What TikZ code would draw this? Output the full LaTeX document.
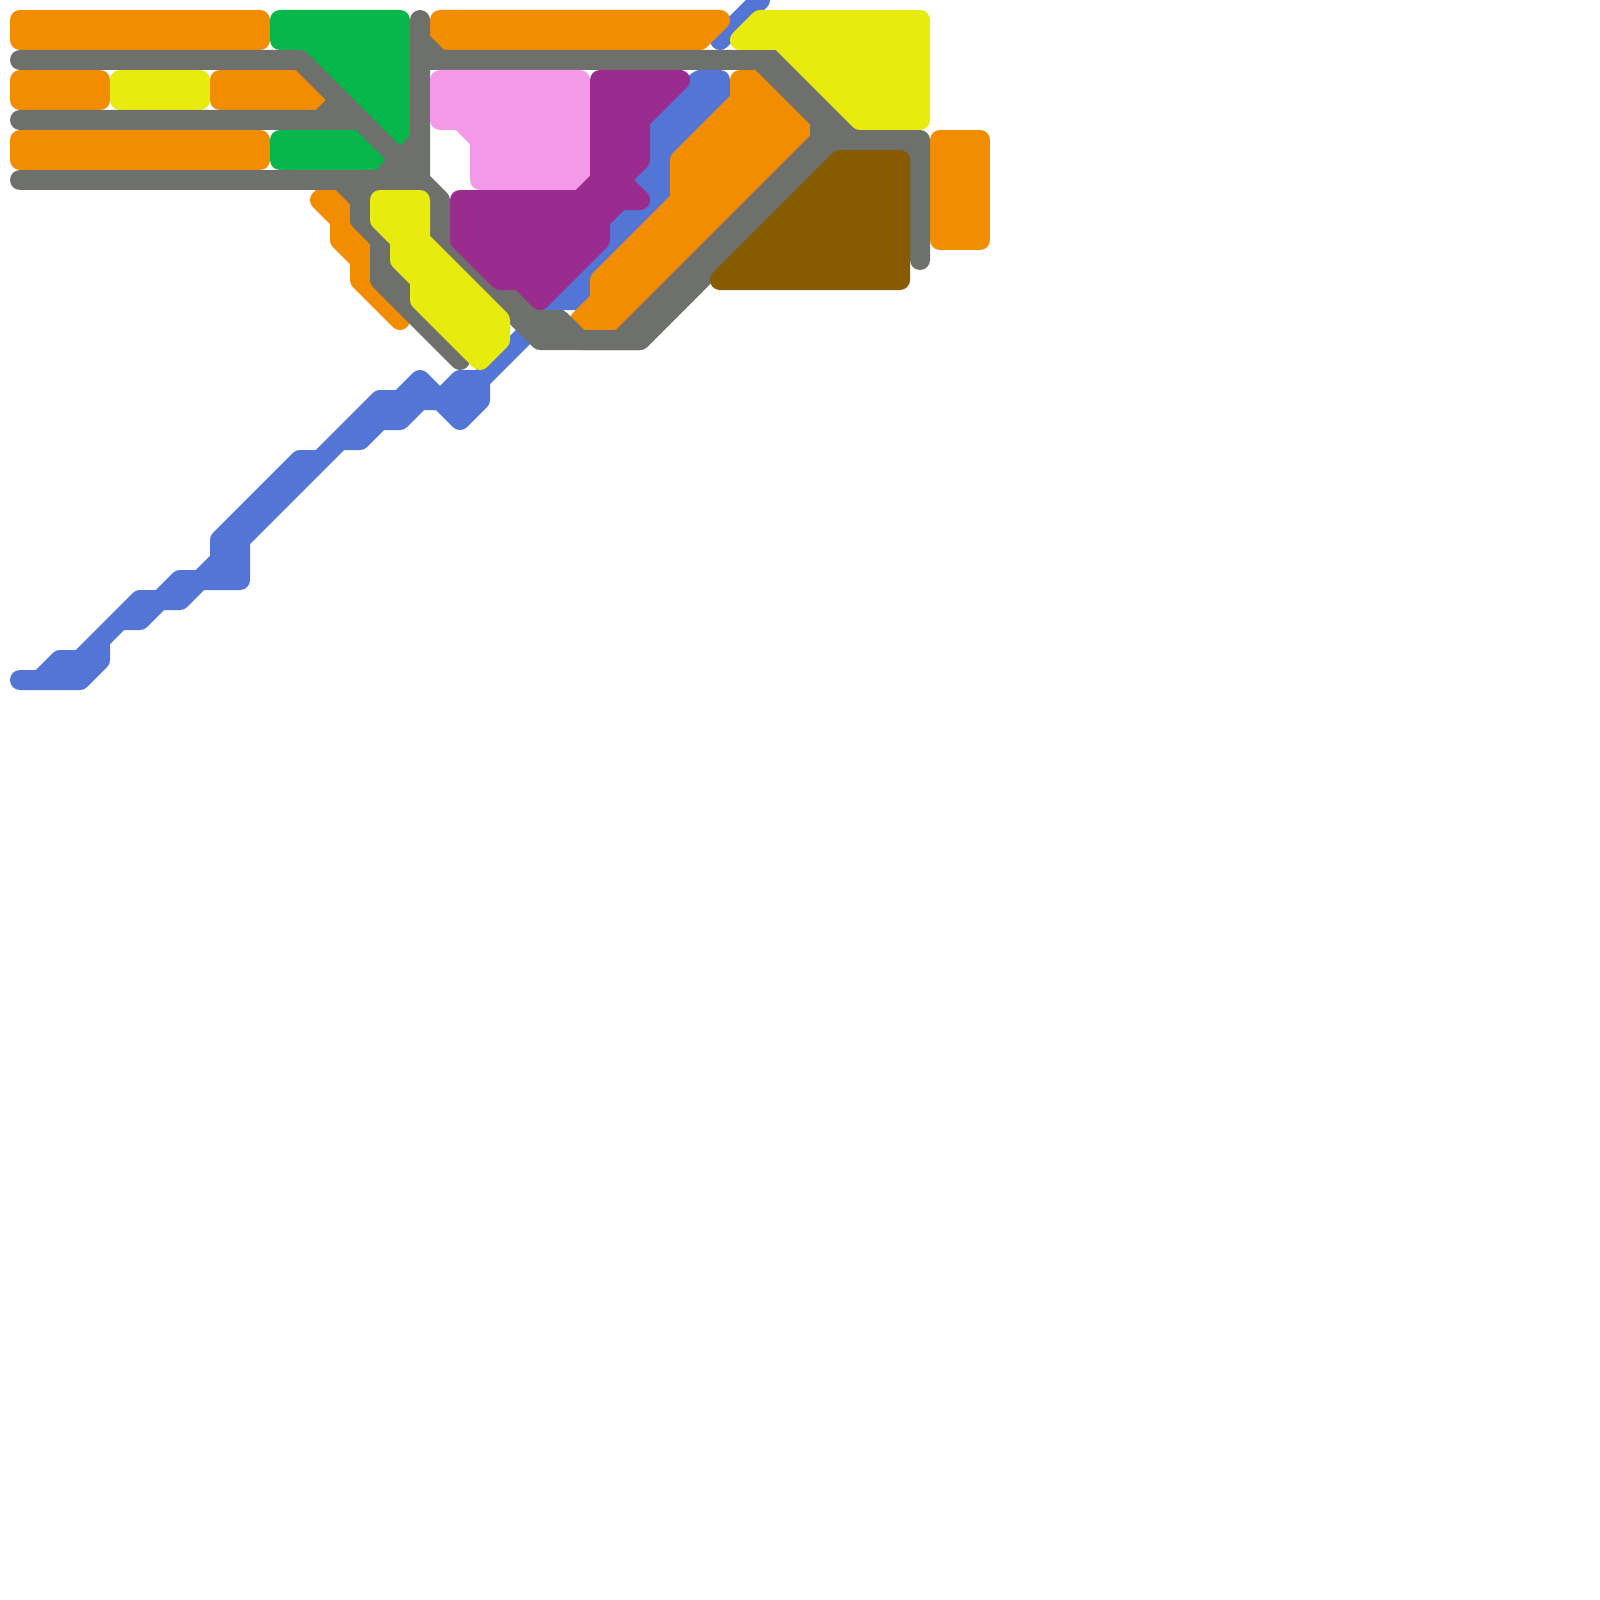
\documentclass[tikz,border=0pt]{standalone}
\definecolor{cOrange}{HTML}{F38D00}
\definecolor{cGreen}{HTML}{08B74B}
\definecolor{cGray}{HTML}{6E706C}
\definecolor{cYellow}{HTML}{E8EC0E}
\definecolor{cPink}{HTML}{F498E8}
\definecolor{cPurple}{HTML}{9B2C8F}
\definecolor{cBlue}{HTML}{5375D6}
\definecolor{cBrown}{HTML}{875C00}
\tikzset{
  area/.style={fill=#1,draw=#1,line width=10pt,line join=round,line cap=round},
  track/.style={draw=#1,line width=10pt,line join=round,line cap=round}
}
\begin{document}
\begin{tikzpicture}[x=0.5pt,y=-0.5pt]
\useasboundingbox (0,0) rectangle (1600,1600);
\fill[white] (0,0) rectangle (1600,1600);
% blue
\path[area=cBlue] (20,680)--(80,680)--(100,660)--(100,640)--(120,620)--(140,620)--(160,600)--(180,600)--(200,580)--(240,580)--(240,540)--(340,440)--(360,440)--(380,420)--(400,420)--(420,400)--(440,400)--(460,420)--(480,400)--(480,380)--(460,380)--(440,400)--(420,380)--(400,400)--(380,400)--(320,460)--(300,460)--(220,540)--(220,560)--(200,580)--(180,580)--(160,600)--(140,600)--(80,660)--(60,660)--(40,680)--cycle;
\draw[track=cBlue] (480,380)--(560,300);
\path[area=cBlue] (700,80)--(720,80)--(720,100)--(660,160)--(660,200)--(580,280)--(580,300)--(560,300)--(600,260)--(620,200)--(640,120)--cycle;
\draw[track=cBlue] (720,40)--(760,0);
% orange
\path[area=cOrange] (20,20) rectangle (260,40);
\path[area=cOrange] (20,80) rectangle (100,100);
\path[area=cOrange] (220,80)--(300,80)--(320,100)--(220,100)--cycle;
\path[area=cOrange] (20,140) rectangle (260,160);
\path[area=cOrange] (440,20)--(720,20)--(700,40)--(440,40)--cycle;
\path[area=cOrange] (940,140) rectangle (980,240);
\path[area=cOrange] (320,200)--(340,220)--(340,240)--(360,260)--(360,280)--(400,320)--(380,280)--(380,240)--(360,220)--(360,200)--(340,180)--cycle;
\path[area=cOrange] (740,80)--(760,80)--(800,120)--(800,140)--(620,320)--(580,320)--(600,300)--(600,280)--(680,200)--(680,160)--(740,100)--cycle;
% green
\path[area=cGreen] (280,20)--(400,20)--(400,140)--(300,40)--(280,40)--cycle;
\path[area=cGreen] (280,140)--(360,140)--(380,160)--(280,160)--cycle;
% yellow small
\path[area=cYellow] (120,80) rectangle (200,100);
% gray
\draw[track=cGray] (20,60)--(300,60)--(420,180);
\draw[track=cGray] (20,120)--(320,120)--(340,100);
\draw[track=cGray] (320,120)--(360,120);
\draw[track=cGray] (20,180)--(420,180);
\draw[track=cGray] (420,140)--(380,180);
\draw[track=cGray] (420,20)--(420,180)--(440,200)--(440,240)--(540,340)--(640,340)--(840,140)--(920,140)--(920,260);
\draw[track=cGray] (420,40)--(440,60)--(760,60)--(840,140);
\draw[track=cGray] (420,60)--(440,60);
\draw[track=cGray] (900,160)--(920,160);
\path[area=cGray] (760,60)--(780,60)--(860,140)--(840,140)--cycle;
\draw[track=cGray] (820,120)--(820,140);
\draw[track=cGray] (520,320)--(560,320)--(580,340);
\draw[track=cGray] (500,280)--(540,320);
\path[area=cGray] (580,340)--(620,340)--(820,140)--(840,140)--(640,340)--cycle;
\path[area=cGray] (340,180)--(360,200)--(360,220)--(380,240)--(380,280)--(460,360)--(420,300)--(420,200)--(400,180)--cycle;
% pink
\path[area=cPink] (440,80)--(580,80)--(580,180)--(480,180)--(480,140)--(460,120)--(440,120)--cycle;
% yellow
\path[area=cYellow] (740,40)--(760,20)--(920,20)--(920,120)--(860,120)--(780,40)--cycle;
\path[area=cYellow] (380,200)--(420,200)--(420,240)--(500,320)--(500,340)--(480,360)--(420,300)--(420,280)--(400,260)--(400,240)--(380,220)--cycle;
% purple
\path[area=cPurple] (600,80)--(680,80)--(640,120)--(640,160)--(620,180)--(640,200)--(620,200)--(600,220)--(600,240)--(540,300)--(520,280)--(500,280)--(460,240)--(460,200)--(580,200)--(600,180)--cycle;
% brown
\path[area=cBrown] (720,280)--(900,280)--(900,160)--(840,160)--cycle;
\end{tikzpicture}
\end{document}
